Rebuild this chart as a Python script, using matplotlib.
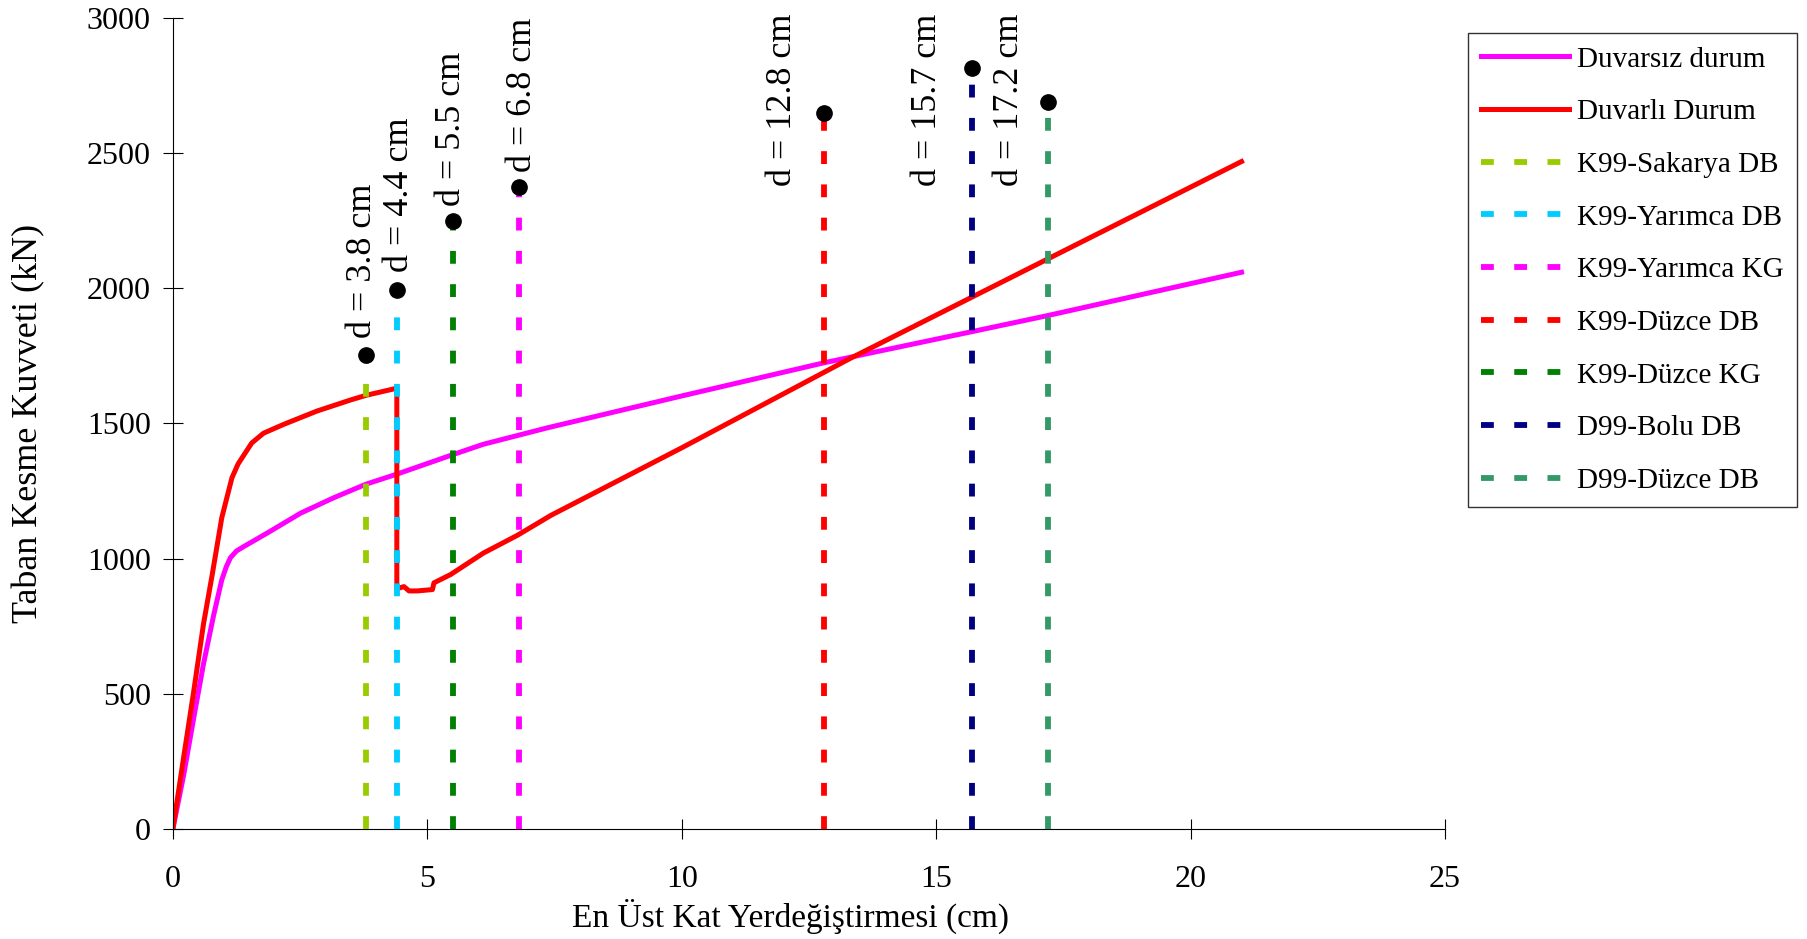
import matplotlib
matplotlib.use('Agg')
import matplotlib.pyplot as plt

plt.rcParams['font.family'] = ['Liberation Serif', 'DejaVu Serif']

# Pushover curves (top displacement cm, base shear kN)
duvarsiz_x = [0, 0.21, 0.41, 0.60, 0.80, 0.96, 1.05, 1.13, 1.25, 1.39, 1.85, 2.51, 3.16,
              3.79, 4.41, 5.46, 6.10, 7.36, 10.0, 12.8, 15.7, 17.2, 21.0]
duvarsiz_y = [0, 197, 411, 609, 790, 921, 970, 1003, 1028, 1044, 1094, 1168, 1225,
              1275, 1313, 1382, 1423, 1484, 1602, 1725, 1840, 1900, 2060]

duvarli_x = [0, 0.21, 0.41, 0.60, 0.77, 0.96, 1.08, 1.16, 1.28, 1.39, 1.55, 1.78, 2.18,
             2.83, 3.49, 3.79, 4.34, 4.40, 4.40, 4.54, 4.64, 4.80, 5.10, 5.13, 5.46,
             6.10, 6.77, 7.43, 10.0, 13.3, 17.2, 21.0]
duvarli_y = [0, 263, 510, 757, 938, 1151, 1240, 1299, 1350, 1382, 1428, 1464, 1497,
             1546, 1587, 1604, 1628, 1632, 888, 896, 880, 880, 885, 910, 941,
             1020, 1086, 1160, 1410, 1740, 2110, 2470]

# Earthquake demand displacements
eq_names = ['K99-Sakarya DB', 'K99-Yarımca DB', 'K99-Yarımca KG', 'K99-Düzce DB',
            'K99-Düzce KG', 'D99-Bolu DB', 'D99-Düzce DB']
eq_disp = [3.8, 4.4, 6.8, 12.8, 5.5, 15.7, 17.2]
eq_top = [1752, 1995, 2375, 2650, 2250, 2815, 2690]
eq_colors = ['#99CC00', '#00CCFF', '#FF00FF', '#FF0000', '#008000', '#000080', '#339966']

# label anchor (centre x, bottom y) for the rotated texts
label_x = [3.73, 4.46, 6.86, 11.97, 5.48, 14.82, 16.45]
label_y = [1815, 2060, 2430, 2380, 2307, 2380, 2380]

fig = plt.figure(figsize=(18.07, 9.39), dpi=100)
ax = fig.add_axes([0.0957, 0.1176, 0.7040, 0.8628])

ax.plot(duvarsiz_x, duvarsiz_y, color='#FF00FF', lw=3.6, label='Duvarsız durum', zorder=2)
ax.plot(duvarli_x, duvarli_y, color='#FF0000', lw=3.6, label='Duvarlı Durum', zorder=2)

for name, d, top, c in zip(eq_names, eq_disp, eq_top, eq_colors):
    ax.plot([d, d], [0, top], color=c, lw=4.2, dashes=(2.2, 3.5),
            dash_capstyle='butt', label=name, zorder=3)
    ax.plot(d, top, 'o', color='black', ms=11, zorder=4)

for d, lx, ly in zip(eq_disp, label_x, label_y):
    ax.text(lx, ly, f'd = {d} cm', rotation=90, ha='center', va='bottom',
            fontsize=26, clip_on=False)

ax.set_xlim(0, 25)
ax.set_ylim(0, 3000)
ax.set_xticks([0, 5, 10, 15, 20, 25])
ax.set_yticks(range(0, 3001, 500))
ax.spines['top'].set_visible(False)
ax.spines['right'].set_visible(False)
ax.tick_params(axis='both', direction='inout', length=14, width=0.8, labelsize=23)
ax.tick_params(axis='x', pad=19)
ax.tick_params(axis='y', pad=9)

ax.set_xlabel('En Üst Kat Yerdeğiştirmesi (cm)', fontsize=24)
ax.set_ylabel('Taban Kesme Kuvveti (kN)', fontsize=26)
ax.xaxis.set_label_coords(0.4855, -0.087)
ax.yaxis.set_label_coords(-0.10, 0.5)

handles, labels = ax.get_legend_handles_labels()
# legend order as in the reference
leg_names = ['Duvarsız durum', 'Duvarlı Durum', 'K99-Sakarya DB', 'K99-Yarımca DB',
             'K99-Yarımca KG', 'K99-Düzce DB', 'K99-Düzce KG', 'D99-Bolu DB', 'D99-Düzce DB']
hmap = dict(zip(labels, handles))
leg = fig.legend([hmap[n] for n in leg_names], leg_names, loc='upper left',
                 bbox_to_anchor=(0.8124, 0.9649), borderaxespad=0, fontsize=21,
                 frameon=True, fancybox=False, edgecolor='black', handlelength=3.0,
                 handletextpad=0.3, labelspacing=0.9, borderpad=0.45)
leg.get_frame().set_linewidth(1.0)

fig.savefig('out.png', dpi=100)
